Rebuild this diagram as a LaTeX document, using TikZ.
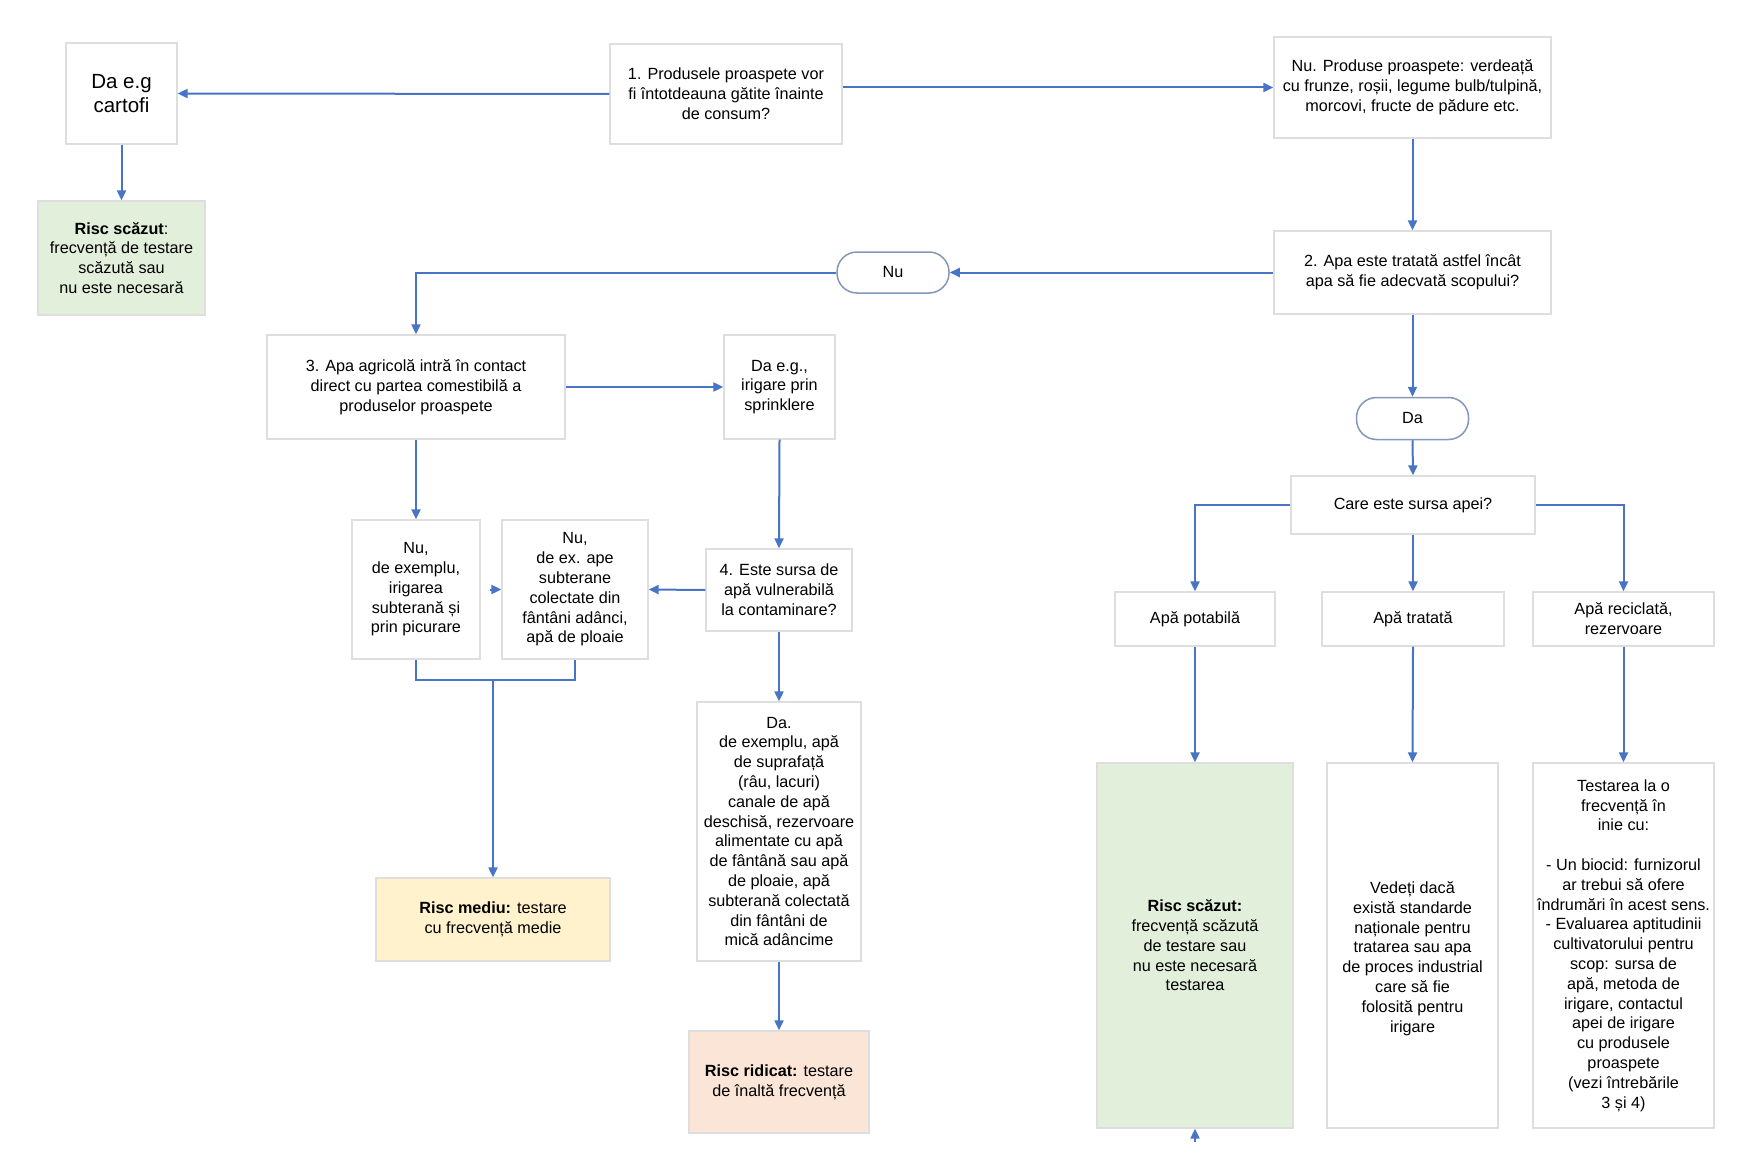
\documentclass[tikz,border=0pt]{standalone}
\usepackage{fontspec}
\setmainfont{Liberation Sans}
\usetikzlibrary{arrows.meta}
\definecolor{lineblue}{RGB}{72,116,198}
\definecolor{pillc}{RGB}{132,151,186}
\definecolor{boxgray}{RGB}{222,222,222}
\definecolor{lgreen}{RGB}{226,239,218}
\definecolor{lyellow}{RGB}{255,242,204}
\definecolor{lpeach}{RGB}{251,229,214}
\newcommand{\fsn}{\fontsize{16.2}{19.8}\selectfont}
\newcommand{\fsb}{\fontsize{20.5}{24.5}\selectfont}
\tikzset{
  box/.style={draw=boxgray, line width=1.3pt, fill=white, align=center, inner sep=0pt, font=\fsn},
  pill/.style={draw=pillc, line width=1.5pt, fill=white, align=center, inner sep=0pt, font=\fsn, rounded corners=20pt},
  arr/.style={draw=lineblue, line width=2pt, -{Triangle[length=10pt,width=9pt]}},
  ln/.style={draw=lineblue, line width=2pt},
  sz/.style n args={2}{minimum width=#1pt, minimum height=#2pt}
}
\begin{document}
\begin{tikzpicture}[x=1pt,y=-1pt]
\useasboundingbox (0,0) rectangle (1755,1169);
\fill[white] (0,0) rectangle (1755,1169);
% nodes
\node[box, sz={111}{101}, font=\fsb] (A) at (121.5,93.5) {Da e.g\\cartofi};
\node[box, sz={167}{114}, fill=lgreen] (L1) at (121.5,258) {\textbf{Risc scăzut}:\\frecvență de testare\\scăzută sau\\nu este necesară};
\node[box, sz={232}{100}] (Q1) at (726,94) {1. Produsele proaspete vor\\fi întotdeauna gătite înainte\\de consum?};
\node[box, sz={277}{101}] (N1) at (1412.5,87.5) {Nu. Produse proaspete: verdeață\\cu frunze, roșii, legume bulb/tulpină,\\morcovi, fructe de pădure etc.};
\node[box, sz={277}{83}] (Q2) at (1412.5,272.5) {2. Apa este tratată astfel încât\\apa să fie adecvată scopului?};
\node[pill, sz={112}{41}] (Nu) at (893,272.5) {Nu};
\node[box, sz={298}{104}] (Q3) at (416,387) {3. Apa agricolă intră în contact\\direct cu partea comestibilă a\\produselor proaspete};
\node[box, sz={111}{104}] (DS) at (779.5,387) {Da e.g.,\\irigare prin\\sprinklere};
\node[pill, sz={112}{42}] (Da) at (1412.5,418.5) {Da};
\node[box, sz={244}{58}] (Care) at (1413,505) {Care este sursa apei?};
\node[box, sz={128}{139}] (NA) at (416,589.5) {Nu,\\de exemplu,\\irigarea\\subterană și\\prin picurare};
\node[box, sz={146}{139}] (NB) at (575,589.5) {Nu,\\de ex. ape\\subterane\\colectate din\\fântâni adânci,\\apă de ploaie};
\node[box, sz={146}{82}] (Q4) at (779,590) {4. Este sursa de\\apă vulnerabilă\\la contaminare?};
\node[box, sz={160}{54}] (Pot) at (1195,619) {Apă potabilă};
\node[box, sz={182}{54}] (Trat) at (1413,619) {Apă tratată};
\node[box, sz={181}{54}] (Rec) at (1623.5,619) {Apă reciclată,\\rezervoare};
\node[box, sz={164}{259}] (DL) at (779,831.5) {Da.\\de exemplu, apă\\de suprafață\\(râu, lacuri)\\canale de apă\\deschisă, rezervoare\\alimentate cu apă\\de fântână sau apă\\de ploaie, apă\\subterană colectată\\din fântâni de\\mică adâncime};
\node[box, sz={234}{83}, fill=lyellow] (RM) at (493,919.5) {\textbf{Risc mediu:} testare\\cu frecvență medie};
\node[box, sz={180}{102}, fill=lpeach] (RR) at (779,1082) {\textbf{Risc ridicat:} testare\\de înaltă frecvență};
\node[box, sz={196}{365}, fill=lgreen] (L2) at (1195,945.5) {\textbf{Risc scăzut:}\\frecvență scăzută\\de testare sau\\nu este necesară\\testarea};
\node[box, sz={171}{365}] (Ved) at (1412.5,945.5) {\raisebox{0pt}{}\\[18pt]Vedeți dacă\\există standarde\\naționale pentru\\tratarea sau apa\\de proces industrial\\care să fie\\folosită pentru\\irigare};
\node[box, sz={181}{365}] (Test) at (1623.5,945.5) {Testarea la o\\frecvență în\\inie cu:\\\mbox{}\\- Un biocid: furnizorul\\ar trebui să ofere\\îndrumări în acest sens.\\- Evaluarea aptitudinii\\cultivatorului pentru\\scop: sursa de\\apă, metoda de\\irigare, contactul\\apei de irigare\\cu produsele\\proaspete\\(vezi întrebările\\3 și 4)};
% helper coordinates
\coordinate (J) at (493,680);
\coordinate (T1) at ([xshift=-11pt]NB.west);
\coordinate (T2) at ([yshift=-13pt]L2.south);
% connectors
\draw[arr] (Q1.west) -- (A.east);
\draw[arr] (N1.west -| Q1.east) -- (N1.west);
\draw[arr] (A.south) -- (L1.north);
\draw[arr] (N1.south) -- (Q2.north);
\draw[arr] (Q2.west) -- (Nu.east);
\draw[arr] (Nu.west) -| (Q3.north);
\draw[arr] (Q2.south) -- (Da.north);
\draw[arr] (Da.south) -- (Care.north);
\draw[arr] (Care.west) -| (Pot.north);
\draw[arr] (Care.south) -- (Trat.north);
\draw[arr] (Care.east) -| (Rec.north);
\draw[arr] (Q3.east) -- (DS.west);
\draw[arr] (Q3.south) -- (NA.north);
\draw[arr] (DS.south) -- (Q4.north);
\draw[arr] (Q4.west) -- (NB.east);
\draw[arr] (T1) -- (NB.west);
\draw[ln] (NA.south) |- (J) -| (NB.south);
\draw[arr] (J) -- (RM.north);
\draw[arr] (Q4.south) -- (DL.north);
\draw[arr] (DL.south) -- (RR.north);
\draw[arr] (Pot.south) -- (L2.north);
\draw[arr] (Trat.south) -- (Ved.north);
\draw[arr] (Rec.south) -- (Test.north);
\draw[arr] (T2) -- (L2.south);
\end{tikzpicture}
\end{document}
